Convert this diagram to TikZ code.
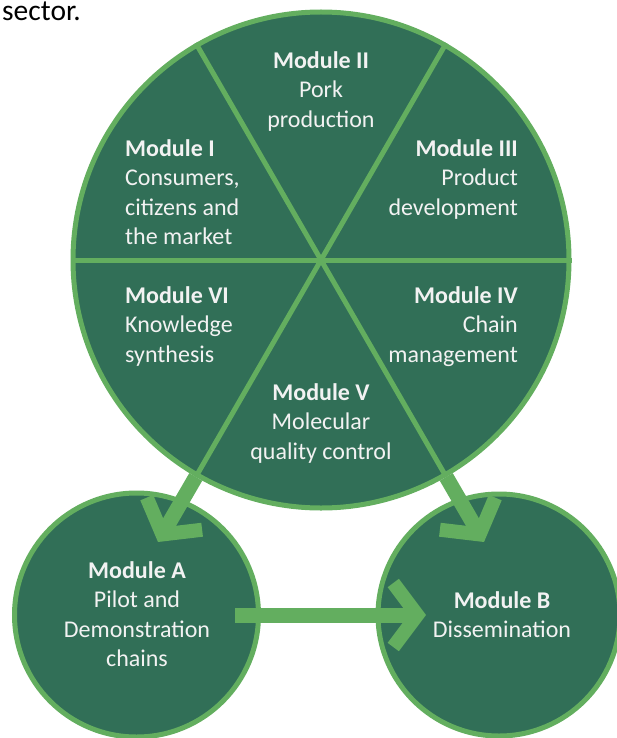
\documentclass[tikz,border=0pt]{standalone}
\usepackage{fontspec}
\setmainfont{Carlito}
\usetikzlibrary{arrows.meta}
\definecolor{fillg}{HTML}{316F57}
\definecolor{lineg}{HTML}{63AE5F}
\definecolor{txt}{HTML}{F2F2F2}
\begin{document}
\begin{tikzpicture}[x=1pt,y=-1pt,
  disc/.style={circle, draw=lineg, fill=fillg, line width=5pt, inner sep=0pt},
  divider/.style={draw=lineg, line width=5pt},
  flow/.style={draw=lineg, line width=15pt, -{Straight Barb[length=24pt,width=64pt,line width=14pt]}},
  lbl/.style={text=txt, font=\fontsize{24}{29.5}\selectfont, inner sep=0pt},
]
\useasboundingbox (0,0) rectangle (617,738);
\node[anchor=base west, font=\fontsize{29.5}{34}\selectfont, inner sep=0pt] (cap) at (2,21) {sector.};
\node[disc, minimum size=496pt] (big) at (321,260) {};
\draw[divider] (big.0) -- (big.180);
\draw[divider] (big.60) -- (big.-120);
\draw[divider] (big.120) -- (big.-60);
\node[disc, minimum size=244pt] (A) at (136.5,615) {};
\node[disc, minimum size=242pt] (B) at (499,615) {};
\coordinate (tipA) at (158,542);
\coordinate (tipB) at (484,542);
\coordinate (hstart) at (235,615);
\coordinate (hend) at (426,615);
\draw[flow] (big.-120) -- (tipA);
\draw[flow] (big.-60) -- (tipB);
\draw[flow] (hstart) -- (hend);
\node[lbl, anchor=north, align=center] (m2) at (321,51) {\textbf{Module II}\\Pork\\production};
\node[lbl, anchor=north west, align=left] (m1) at (125,139) {\textbf{Module I}\\Consumers,\\citizens and\\the market};
\node[lbl, anchor=north east, align=right] (m3) at (518,139) {\textbf{Module III}\\Product\\development};
\node[lbl, anchor=north west, align=left] (m6) at (125,286) {\textbf{Module VI}\\Knowledge\\synthesis};
\node[lbl, anchor=north east, align=right] (m4) at (518,286) {\textbf{Module IV}\\Chain\\management};
\node[lbl, anchor=north, align=center] (m5) at (321,383) {\textbf{Module V}\\Molecular\\quality control};
\node[lbl, anchor=north, align=center] (ma) at (137,561) {\textbf{Module A}\\Pilot and\\Demonstration\\chains};
\node[lbl, anchor=north, align=center] (mb) at (502,591) {\textbf{Module B}\\Dissemination};
\end{tikzpicture}
\end{document}
